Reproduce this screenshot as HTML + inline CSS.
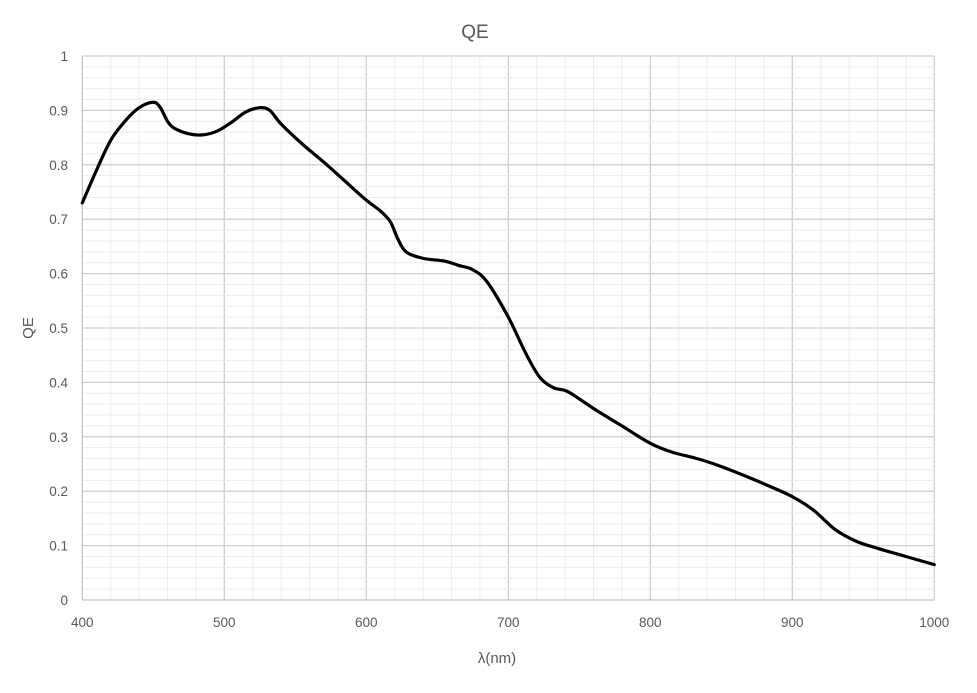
<!DOCTYPE html>
<html><head><meta charset="utf-8"><style>
html,body{margin:0;padding:0;background:#fff;}
svg{display:block;font-family:"Liberation Sans",sans-serif;}
</style></head><body>
<svg id="s" width="977" height="693" xmlns="http://www.w3.org/2000/svg">
<text x="475" y="38" font-size="19" fill="#595959" text-anchor="middle">QE</text>
<text x="497" y="663" font-size="15" fill="#595959" text-anchor="middle">λ(nm)</text>
<text x="33" y="328" font-size="15" fill="#595959" text-anchor="middle" transform="rotate(-90 33 328)">QE</text>
<g id="g"></g>
<path id="c" fill="none" stroke="#000" stroke-width="3.2" stroke-linejoin="round" stroke-linecap="round"/>
</svg>
<script>
const X=v=>82.3+(v-400)*1.42, Y=v=>600-v*544;
const g=document.getElementById('g');let h='';
for(let v=400;v<=1000;v+=20){const x=X(v);h+=`<line x1="${x}" x2="${x}" y1="56" y2="600" stroke="${(v%100==0&&v>400)?'#d0d0d0':'#ececec'}" stroke-width="${v%100==0?1.3:1}"/>`;}
for(let i=0;i<=50;i++){const y=Y(i/50);h+=`<line x1="82.3" x2="934.3" y1="${y}" y2="${y}" stroke="${i%5==0?'#d0d0d0':'#ececec'}" stroke-width="${i%5==0?1.3:1}"/>`;}
h+=`<line x1="82.3" x2="82.3" y1="56" y2="600" stroke="#bfbfbf"/><line x1="82.3" x2="934.3" y1="600" y2="600" stroke="#bfbfbf"/>`;
for(let i=0;i<=10;i++){const v=i/10;h+=`<text x="68" y="${Y(v)+5}" font-size="13.5" fill="#595959" text-anchor="end">${i==0?0:i==10?1:v.toFixed(1)}</text>`;}
for(let v=400;v<=1000;v+=100)h+=`<text x="${X(v)}" y="627" font-size="13.5" fill="#595959" text-anchor="middle">${v}</text>`;
g.innerHTML=h;
const d=[[400,.73],[410,.79],[420,.845],[430,.88],[440,.905],[450,.915],[455,.905],[460,.88],[465,.867],[475,.857],[485,.855],[495,.862],[505,.878],[515,.897],[525,.905],[532,.9],[540,.875],[555,.838],[570,.805],[585,.77],[600,.735],[610,.715],[617,.695],[622,.665],[628,.64],[640,.628],[655,.623],[665,.615],[675,.607],[685,.585],[700,.52],[712,.455],[722,.41],[732,.39],[742,.383],[760,.352],[780,.32],[800,.288],[815,.272],[830,.262],[845,.25],[865,.23],[885,.208],[900,.19],[915,.165],[930,.13],[945,.108],[960,.095],[980,.08],[1000,.065]].map(p=>[X(p[0]),Y(p[1])]);
let p=`M${d[0][0]},${d[0][1]}`;
for(let i=0;i<d.length-1;i++){const a=d[Math.max(i-1,0)],b=d[i],c=d[i+1],e=d[Math.min(i+2,d.length-1)];
p+=`C${b[0]+(c[0]-a[0])/6},${b[1]+(c[1]-a[1])/6} ${c[0]-(e[0]-b[0])/6},${c[1]-(e[1]-b[1])/6} ${c[0]},${c[1]}`;}
document.getElementById('c').setAttribute('d',p);
</script>
</body></html>
